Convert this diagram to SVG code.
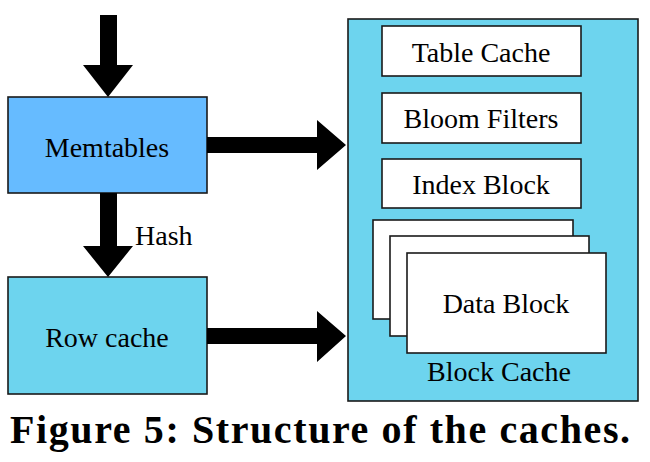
<svg xmlns="http://www.w3.org/2000/svg" width="650" height="462" viewBox="0 0 650 462">
<style>
.box{stroke:#1a1a1a;stroke-width:1.6}
.w{fill:#ffffff}
.arr{fill:#000}
</style>
<rect width="650" height="462" fill="#fff"/>
<g id="block-cache">
<rect class="box" x="348" y="19" width="290" height="382" fill="#6DD4EE"/>
<text font-family="Liberation Serif, Times New Roman, DejaVu Serif, serif" font-size="28" text-anchor="middle" x="499" y="381">Block Cache</text>
</g>
<g id="table-cache">
<rect class="box w" x="382" y="26" width="199" height="50"/>
<text font-family="Liberation Serif, Times New Roman, DejaVu Serif, serif" font-size="28" text-anchor="middle" x="481" y="62">Table Cache</text>
</g>
<g id="bloom-filters">
<rect class="box w" x="382" y="93" width="199" height="50"/>
<text font-family="Liberation Serif, Times New Roman, DejaVu Serif, serif" font-size="28" text-anchor="middle" x="481" y="128">Bloom Filters</text>
</g>
<g id="index-block">
<rect class="box w" x="382" y="159" width="199" height="49"/>
<text font-family="Liberation Serif, Times New Roman, DejaVu Serif, serif" font-size="28" text-anchor="middle" x="481" y="194">Index Block</text>
</g>
<g id="data-block">
<rect class="box w" x="373" y="220" width="200" height="99"/>
<rect class="box w" x="390" y="236" width="199" height="100"/>
<rect class="box w" x="407" y="253" width="199" height="100"/>
<text font-family="Liberation Serif, Times New Roman, DejaVu Serif, serif" font-size="28" text-anchor="middle" x="506" y="313">Data Block</text>
</g>
<g id="memtables">
<rect class="box" x="8" y="97" width="199" height="96" fill="#66BBFF"/>
<text font-family="Liberation Serif, Times New Roman, DejaVu Serif, serif" font-size="28" text-anchor="middle" x="107" y="157">Memtables</text>
</g>
<g id="row-cache">
<rect class="box" x="8" y="277" width="199" height="117" fill="#6DD4EE"/>
<text font-family="Liberation Serif, Times New Roman, DejaVu Serif, serif" font-size="28" text-anchor="middle" x="107" y="347">Row cache</text>
</g>
<g id="connectors">
<polygon class="arr" points="100,15 117,15 117,65 133,65 108,97 83,65 100,65"/>
<polygon class="arr" points="100,193 117,193 117,246 133,246 108,277 83,246 100,246"/>
<text font-family="Liberation Serif, Times New Roman, DejaVu Serif, serif" font-size="28" x="135" y="245">Hash</text>
<polygon class="arr" points="207,137 317,137 317,120 346,145 317,170 317,153 207,153"/>
<polygon class="arr" points="207,328 317,328 317,311 346,336 317,362 317,344 207,344"/>
</g>
<text font-family="Liberation Serif, Times New Roman, DejaVu Serif, serif" font-size="40" font-weight="bold" letter-spacing="1.6" x="10" y="443">Figure 5: Structure of the caches.</text>
</svg>
